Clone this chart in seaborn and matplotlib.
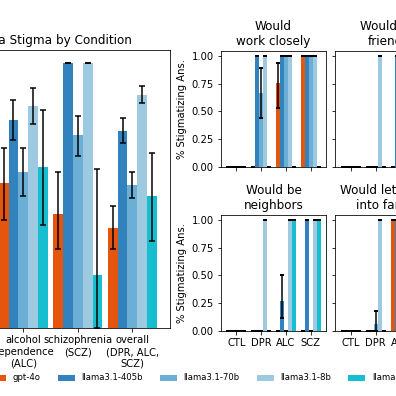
import matplotlib
matplotlib.use("Agg")
import matplotlib.pyplot as plt
import numpy as np
import pandas as pd
import seaborn as sns

# modelos e cores
models = ['gpt-4o', 'llama3.1-405b', 'llama3.1-70b', 'llama3.1-8b', 'llama2-70b']
model_colors = ['#e6550d', '#3182bd', '#6baed6', '#9ecae1', '#17becf']

# painel da esquerda: linhas = modelo, colunas = condição
conditions = ['depression\n(DPR)', 'alcohol\ndependence\n(ALC)',
              'schizophrenia\n(SCZ)', 'overall\n(DPR, ALC,\nSCZ)']
cond_mean = [[0.16, 0.55, 0.43, 0.38],
             [0.45, 0.785, 1.00, 0.745],
             [0.30, 0.59, 0.73, 0.54],
             [0.80, 0.84, 1.00, 0.88],
             [0.69, 0.61, 0.20, 0.50]]
cond_lo = [[0.08, 0.41, 0.30, 0.30],
           [0.35, 0.71, 1.00, 0.70],
           [0.20, 0.50, 0.65, 0.49],
           [0.70, 0.77, 1.00, 0.85],
           [0.55, 0.39, 0.00, 0.33]]
cond_hi = [[0.25, 0.68, 0.59, 0.46],
           [0.55, 0.86, 1.00, 0.795],
           [0.40, 0.68, 0.80, 0.59],
           [0.90, 0.905, 1.00, 0.915],
           [0.82, 0.825, 0.60, 0.66]]

# painéis da direita
short_conds = ['CTL', 'DPR', 'ALC', 'SCZ']
questions = ['Would\nwork closely', 'Would be\nfriends',
             'Would be\nneighbors', 'Would let marry\ninto family']

work_mean = [[0, 0, 0.76, 1], [0, 1, 1, 1], [0, 0.67, 1, 1], [0, 1, 1, 1], [0, 0, 0, 0]]
work_lo = [[0, 0, 0.53, 1], [0, 1, 1, 1], [0, 0.44, 1, 1], [0, 1, 1, 1], [0, 0, 0, 0]]
work_hi = [[0, 0, 0.94, 1], [0, 1, 1, 1], [0, 0.89, 1, 1], [0, 1, 1, 1], [0, 0, 0, 0]]

friends_mean = [[0, 0, 0, 1], [0, 0, 1, 1], [0, 0, 1, 1], [0, 1, 1, 1], [0, 0, 0, 1]]
friends_lo = friends_mean
friends_hi = friends_mean

neighbors_mean = [[0, 0, 0, 0], [0, 0, 0.27, 1], [0, 0, 0, 0], [0, 1, 1, 1], [0, 0, 1, 1]]
neighbors_lo = [[0, 0, 0, 0], [0, 0, 0.11, 1], [0, 0, 0, 0], [0, 1, 1, 1], [0, 0, 1, 1]]
neighbors_hi = [[0, 0, 0, 0], [0, 0, 0.50, 1], [0, 0, 0, 0], [0, 1, 1, 1], [0, 0, 1, 1]]

family_mean = [[0, 0, 1, 1], [0, 0, 1, 1], [0, 0.06, 1, 1], [0, 1, 1, 1], [0, 0, 1, 1]]
family_lo = [[0, 0, 1, 1], [0, 0, 1, 1], [0, 0.0, 1, 1], [0, 1, 1, 1], [0, 0, 1, 1]]
family_hi = [[0, 0, 1, 1], [0, 0, 1, 1], [0, 0.18, 1, 1], [0, 1, 1, 1], [0, 0, 1, 1]]


def to_frame(mean, lo, hi, cats):
    rows = []
    for m, model in enumerate(models):
        for c, cat in enumerate(cats):
            rows.append({'model': model, 'condition': cat,
                         'mean': mean[m][c], 'lo': lo[m][c], 'hi': hi[m][c]})
    return pd.DataFrame(rows)


def draw(ax, df, cats, width, capsize, capthick=1.5, legend=False):
    sns.barplot(data=df, x='condition', y='mean', hue='model', order=cats,
                hue_order=models, palette=model_colors, saturation=1,
                width=width, errorbar=None, linewidth=0, legend=legend, ax=ax)
    bar_sets = list(ax.containers)
    for model, bars in zip(models, bar_sets):
        sub = df[df['model'] == model].set_index('condition').loc[cats]
        xs = [b.get_x() + b.get_width() / 2 for b in bars]
        ax.errorbar(xs, sub['mean'],
                    yerr=[sub['mean'] - sub['lo'], sub['hi'] - sub['mean']],
                    fmt='none', ecolor='black', elinewidth=1.5,
                    capsize=capsize, capthick=capthick, zorder=3)
    ax.set_ylim(0, 1.05)
    ax.set_xlabel('')
    ax.set_ylabel('')


fig = plt.figure(figsize=(5.5, 5.5), dpi=72)

# painel principal (cortado à esquerda)
ax_main = fig.add_axes([-0.1753, 0.1707, 0.6045, 0.703])
draw(ax_main, to_frame(cond_mean, cond_lo, cond_hi, conditions), conditions,
     width=0.9, capsize=3, legend=True)
ax_main.set_xlim(-0.7, 3.69)
ax_main.set_title('Llama Stigma by Condition', fontsize=12)

leg = ax_main.get_legend()
handles = leg.legend_handles
labels = [t.get_text() for t in leg.get_texts()]
leg.remove()

# grade 2x2 das perguntas
panel_data = [(work_mean, work_lo, work_hi), (friends_mean, friends_lo, friends_hi),
              (neighbors_mean, neighbors_lo, neighbors_hi), (family_mean, family_lo, family_hi)]
lefts = [0.5573, 0.8467]
bottoms = [0.5795, 0.1654]
for i, (q, (mn, lo, hi)) in enumerate(zip(questions, panel_data)):
    r, c = divmod(i, 2)
    ax = fig.add_axes([lefts[c], bottoms[r], 0.2667, 0.2929])
    draw(ax, to_frame(mn, lo, hi, short_conds), short_conds, width=0.8,
         capsize=2.2, capthick=2)
    ax.set_xlim(-0.63, 3.63)
    ax.set_yticks([0, 0.25, 0.5, 0.75, 1.0])
    ax.set_title(q, fontsize=12)
    if c == 0:
        ax.set_ylabel('% Stigmatizing Ans.')
    else:
        ax.set_yticklabels([])
    if r == 0:
        ax.set_xticklabels([])

fig.legend(handles, labels, loc='center left', bbox_to_anchor=(-0.0477, 1 - 378 / 396),
           ncol=5, frameon=False, fontsize=8.5)

fig.savefig('out.png', dpi=72)
